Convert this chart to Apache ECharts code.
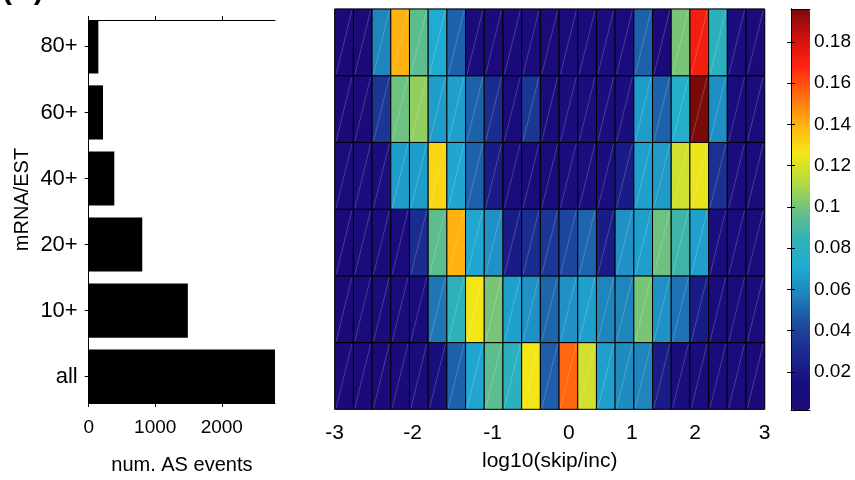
<!DOCTYPE html>
<html>
<head>
<meta charset="utf-8">
<script src="https://cdn.jsdelivr.net/npm/echarts@6/dist/echarts.min.js"></script>
<style>html,body{margin:0;padding:0;background:#fff;}#c{width:855px;height:480px;}</style>
</head>
<body>
<div id="c"></div>
<script>
// ---- data ----
const barCategories = ['all', '10+', '20+', '40+', '60+', '80+'];
const barValues = [2800, 1490, 805, 385, 215, 145];
const barTicks = [0, 1000, 2000];
const barMax = 2800;

// heatmap rows (bottom to top), 23 bins each
const heatAll = [0.005,0.005,0.005,0.005,0.006,0.012,0.049,0.069,0.095,0.080,0.126,0.048,0.155,0.118,0.067,0.060,0.058,0.022,0.010,0.008,0.006,0.006,0.005];
const heat10  = [0.005,0.006,0.006,0.006,0.008,0.054,0.082,0.126,0.101,0.067,0.062,0.050,0.062,0.067,0.058,0.058,0.101,0.062,0.053,0.022,0.008,0.006,0.006];
const heat20  = [0.005,0.006,0.006,0.008,0.030,0.095,0.140,0.069,0.062,0.022,0.030,0.035,0.042,0.050,0.022,0.062,0.067,0.099,0.088,0.067,0.010,0.008,0.006];
const heat40  = [0.006,0.010,0.010,0.066,0.066,0.131,0.069,0.049,0.022,0.006,0.008,0.008,0.010,0.010,0.012,0.022,0.067,0.065,0.118,0.124,0.032,0.010,0.006];
const heat60  = [0.004,0.005,0.035,0.099,0.106,0.066,0.067,0.049,0.030,0.007,0.035,0.008,0.010,0.010,0.012,0.010,0.066,0.049,0.075,0.196,0.061,0.008,0.006];
const heat80  = [0.004,0.004,0.058,0.140,0.095,0.071,0.049,0.006,0.005,0.005,0.007,0.005,0.008,0.008,0.010,0.008,0.049,0.005,0.101,0.172,0.080,0.010,0.005];
const heatRows = [heatAll, heat10, heat20, heat40, heat60, heat80];
const nCols = 23;

// x tick positions (in bin units) and labels
const xTickPos = [0, 4.16, 8.44, 12.53, 15.9, 19.27, 23];
const xTickLabels = ['-3', '-2', '-1', '0', '1', '2', '3'];

// colorbar
const cMin = 0.0015, cMax = 0.196;
const cbarTicks = [0.02, 0.04, 0.06, 0.08, 0.1, 0.12, 0.14, 0.16, 0.18];
const jetColors = ['#1c0a78','#180f80','#1a2a8e','#1d4a9f','#1e82bc','#20acd2','#32b2b4','#6cc182','#b6dc3e','#f6e614','#ffb012','#ff6a10','#ff2410','#d01010','#7a0a0a'];

// ---- chart ----
const FONT = 'Liberation Sans, Arial, Helvetica, sans-serif';
const heatData = [];
heatRows.forEach((row, r) => row.forEach((v, c) => heatData.push([c, r, v])));
const barData = barValues.map((v, i) => [v, i + 1]);

const chart = echarts.init(document.getElementById('c'), null, {renderer: 'canvas'});
const blackLine = {show: true, lineStyle: {color: '#000', width: 1}};

const option = {
  animation: false,
  backgroundColor: '#fff',
  textStyle: {fontFamily: FONT, color: '#000'},
  graphic: [{
    type: 'text', left: 2, top: -24,
    style: {text: '(A)', font: 'bold 30px ' + FONT, fill: '#000'}
  }],
  grid: [
    {left: 88.7, top: 20, width: 186.3, height: 386.7, show: false},
    {left: 334.7, top: 9, width: 430, height: 400.3, show: true, borderColor: '#888', borderWidth: 1, backgroundColor: 'transparent'},
    {left: 791, top: 9, width: 19, height: 401, show: false}
  ],
  xAxis: [
    {gridIndex: 0, type: 'value', min: 0, max: barMax, position: 'bottom',
     splitLine: {show: false}, axisLine: blackLine,
     axisTick: {show: true, customValues: barTicks, length: 4, lineStyle: {color: '#000'}},
     axisLabel: {customValues: barTicks, fontSize: 19, color: '#000', margin: 15, fontFamily: FONT,
       formatter: v => String(v)},
     name: 'num. AS events', nameLocation: 'middle', nameGap: 52,
     nameTextStyle: {fontSize: 20, color: '#000', fontFamily: FONT}},
    {gridIndex: 0, type: 'value', min: 0, max: barMax, position: 'top',
     splitLine: {show: false}, axisLine: blackLine,
     axisTick: {show: true, customValues: barTicks, length: 4, lineStyle: {color: '#000'}},
     axisLabel: {show: false}},
    {gridIndex: 1, type: 'value', min: 0, max: nCols, position: 'bottom',
     splitLine: {show: false}, axisLine: {show: false}, axisTick: {show: false},
     axisLabel: {customValues: xTickPos, fontSize: 21, color: '#000', margin: 13, fontFamily: FONT,
       formatter: function (v) {
         let best = 0;
         xTickPos.forEach((p, i) => { if (Math.abs(p - v) < Math.abs(xTickPos[best] - v)) best = i; });
         return xTickLabels[best];
       }},
     name: 'log10(skip/inc)', nameLocation: 'middle', nameGap: 41,
     nameTextStyle: {fontSize: 21, color: '#000', fontFamily: FONT}},
    {gridIndex: 2, type: 'value', min: 0, max: 1, position: 'bottom', z: 10,
     splitLine: {show: false}, axisLine: blackLine, axisTick: {show: false}, axisLabel: {show: false}},
    {gridIndex: 2, type: 'value', min: 0, max: 1, position: 'top', z: 10,
     splitLine: {show: false}, axisLine: blackLine, axisTick: {show: false}, axisLabel: {show: false}}
  ],
  yAxis: [
    {gridIndex: 0, type: 'value', min: 0.6, max: 6.4, position: 'left',
     splitLine: {show: false}, axisLine: blackLine,
     axisTick: {show: true, customValues: [1, 2, 3, 4, 5, 6], length: 4, lineStyle: {color: '#000'}},
     axisLabel: {customValues: [1, 2, 3, 4, 5, 6], fontSize: 22, color: '#000', margin: 11, fontFamily: FONT,
       formatter: v => barCategories[Math.round(v) - 1]},
     name: 'mRNA/EST', nameLocation: 'middle', nameGap: 56, nameRotate: 90,
     nameTextStyle: {fontSize: 20, color: '#000', fontFamily: FONT, padding: [0, 0, 0, 24]}},
    {gridIndex: 0, type: 'value', min: 0.6, max: 6.4, position: 'right',
     splitLine: {show: false}, axisLine: blackLine,
     axisTick: {show: true, customValues: [1, 2, 3, 4, 5, 6], length: 4, lineStyle: {color: '#000'}},
     axisLabel: {show: false}},
    {gridIndex: 1, type: 'value', min: 0, max: 6, show: false},
    {gridIndex: 2, type: 'value', min: cMin, max: cMax, position: 'right', z: 10,
     splitLine: {show: false}, axisLine: blackLine,
     axisTick: {show: true, inside: true, customValues: cbarTicks, length: 4, lineStyle: {color: '#000'}},
     axisLabel: {customValues: cbarTicks, fontSize: 19, color: '#000', margin: 4, fontFamily: FONT}},
    {gridIndex: 2, type: 'value', min: cMin, max: cMax, position: 'left', z: 10,
     splitLine: {show: false}, axisLine: blackLine,
     axisTick: {show: true, inside: true, customValues: cbarTicks, length: 4, lineStyle: {color: '#000'}},
     axisLabel: {show: false}}
  ],
  visualMap: [{
    type: 'continuous', seriesIndex: 1, dimension: 2,
    min: cMin, max: cMax, inRange: {color: jetColors},
    left: 791, top: 9, itemWidth: 19, itemHeight: 401, padding: 0,
    calculable: false, hoverLink: false, showLabel: false
  }],
  series: [
    {
      type: 'custom', xAxisIndex: 0, yAxisIndex: 0, clip: true,
      data: barData,
      encode: {x: 0, y: 1},
      renderItem: function (params, api) {
        const v = api.value(0), y = api.value(1);
        const a = api.coord([0, y + 0.41]);
        const b = api.coord([v, y - 0.41]);
        return {type: 'rect', shape: {x: a[0], y: a[1], width: b[0] - a[0], height: b[1] - a[1]},
                style: {fill: '#000'}};
      }
    },
    {
      type: 'custom', xAxisIndex: 2, yAxisIndex: 2,
      data: heatData,
      encode: {x: 0, y: 1},
      renderItem: function (params, api) {
        const c = api.value(0), r = api.value(1);
        const p0 = api.coord([c, r]);
        const p1 = api.coord([c + 1, r + 1]);
        const x0 = p0[0], yb = p0[1], x1 = p1[0], yt = p1[1];
        return {type: 'group', children: [
          {type: 'rect', shape: {x: x0, y: yt, width: x1 - x0, height: yb - yt},
           style: {fill: api.visual('color'), stroke: '#000', lineWidth: 1}},
          {type: 'line', shape: {x1: x0 + 1.5, y1: yb - 1.5, x2: x1 - 1.5, y2: yt + 1.5},
           style: {stroke: 'rgba(255,255,255,0.25)', lineWidth: 0.8}}
        ]};
      }
    }
  ]
};
chart.setOption(option);
</script>
</body>
</html>
